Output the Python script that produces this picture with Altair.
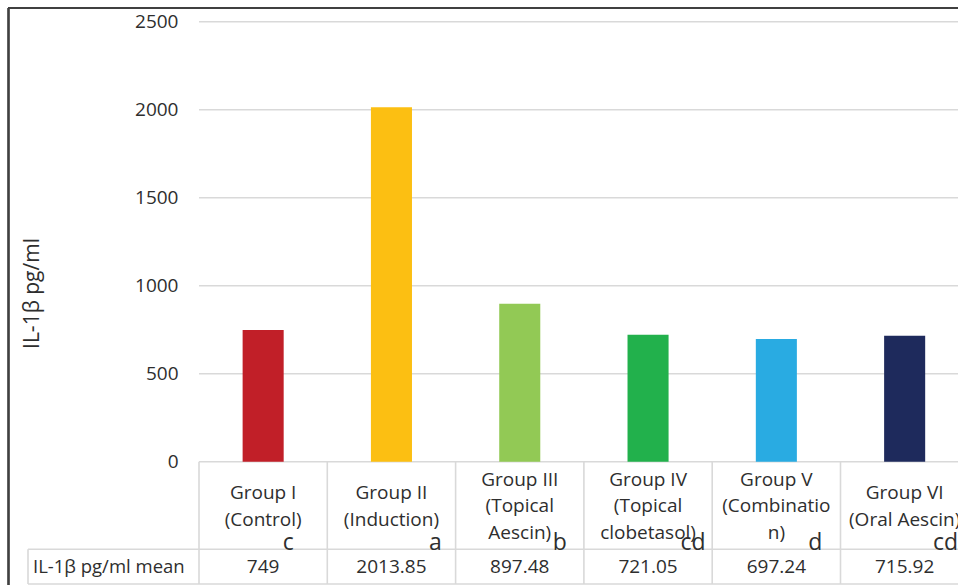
import altair as alt
import pandas as pd

# ---------------- data ----------------
groups = ["Group I", "Group II", "Group III", "Group IV", "Group V", "Group VI"]
label_lines = [
    ["Group I", "(Control)"],
    ["Group II", "(Induction)"],
    ["Group III", "(Topical", "Aescin)"],
    ["Group IV", "(Topical", "clobetasol)"],
    ["Group V", "(Combinatio", "n)"],
    ["Group VI", "(Oral Aescin)"],
]
letters = ["c", "a", "b", "cd", "d", "cd"]
means = [749, 2013.85, 897.48, 721.05, 697.24, 715.92]
means_text = ["749", "2013.85", "897.48", "721.05", "697.24", "715.92"]
colors = ["#C11F28", "#FCBF12", "#92C955", "#22B14C", "#29ABE2", "#1E2A5C"]
y_ticks = [0, 500, 1000, 1500, 2000, 2500]
row_label = "IL-1β pg/ml mean"
y_title = "IL-1β pg/ml"

# ---------------- layout (pixels) ----------------
W, H = 950, 577          # view size; page offset 8,8
PAD = 8
X0 = 199.0               # page x of the first category boundary
COL = 128.3              # column width in px
Y0 = 461.7               # page y of value 0
PPU = 0.176              # px per value unit
LABEL_LEFT = 28.0        # page x of table label column
ROW_TOP = 549.3          # page y of data row top
ROW_BOT = 584.0          # page y of data row bottom
LINE_H = 26.7
LETTER_DX = [25, 44, 40, 45, 39, 41]   # px shift of the letters from the cell centre
FONT = "Open Sans"
TXT = "#2e2e2e"
GRID = "#d9d9d9"

def ux(px):
    return (px - X0) / COL

def vy(py):
    return (Y0 - py) / PPU

n = len(groups)
XS = alt.Scale(domain=[ux(PAD), ux(PAD + W)], nice=False, zero=False)
YS = alt.Scale(domain=[vy(PAD + H), vy(PAD)], nice=False, zero=False)
YAX = alt.Axis(
    values=y_ticks, format="d", grid=False, domain=False, ticks=False,
    offset=-(X0 - PAD), labelPadding=21,
    labelFont=FONT, labelFontSize=19, labelColor=TXT,
    title=y_title, titleFont=FONT, titleFontSize=21, titleFontWeight="normal",
    titleColor=TXT, titleAngle=-90, titleAlign="center", titleBaseline="middle",
    titleX=32 - X0, titleY=293 - PAD,
)

def X(f):
    return alt.X(f, scale=XS, axis=None)

def Y(f):
    return alt.Y(f, scale=YS, axis=YAX)

# ---------------- tables ----------------
cat_df = pd.DataFrame({
    "group": groups,
    "idx": list(range(n)),
    "lines": ["\n".join(l) for l in label_lines],
    "nlines": [len(l) for l in label_lines],
    "letter": letters,
    "mean": means,
    "mean_txt": means_text,
})
cat_df["xc"] = cat_df["idx"] + 0.5
cat_df["xl"] = cat_df["xc"] - 0.16
cat_df["xr"] = cat_df["xc"] + 0.16
cat_df["xlet"] = cat_df["xc"] + [d / COL for d in LETTER_DX]
cat_df["ylab"] = [vy(506.5 - (k - 1) / 2 * LINE_H) for k in cat_df["nlines"]]
cat_df["ylet"] = vy(ROW_TOP)
cat_df["yval"] = vy((ROW_TOP + ROW_BOT) / 2)

segs = []
for t in y_ticks:
    segs.append({"x": 0, "x2": n, "y": t, "y2": t})
for py in (ROW_TOP, ROW_BOT):
    segs.append({"x": ux(LABEL_LEFT), "x2": n, "y": vy(py), "y2": vy(py)})
for i in range(n + 1):
    segs.append({"x": i, "x2": i, "y": 0, "y2": vy(ROW_BOT)})
segs.append({"x": ux(LABEL_LEFT), "x2": ux(LABEL_LEFT), "y": vy(ROW_TOP), "y2": vy(ROW_BOT)})
seg_df = pd.DataFrame(segs)

tick_df = pd.DataFrame({"v": y_ticks, "x": [0] * len(y_ticks)})

# ---------------- layers ----------------
lines = alt.Chart(seg_df).mark_rule(color=GRID, strokeWidth=1.6, clip=True).encode(
    x=X("x:Q"), x2="x2:Q", y=Y("y:Q"), y2="y2:Q",
)

bars = alt.Chart(cat_df).mark_bar().encode(
    x=X("xl:Q"), x2="xr:Q",
    y=Y("mean:Q"), y2=alt.datum(0),
    color=alt.Color("group:N", scale=alt.Scale(domain=groups, range=colors), legend=None),
)

cat_text = alt.Chart(cat_df).mark_text(
    font=FONT, fontSize=19, color=TXT, align="center", baseline="middle",
    lineBreak="\n", lineHeight=LINE_H,
).encode(x=X("xc:Q"), y=Y("ylab:Q"), text="lines:N")

letter_text = alt.Chart(cat_df).mark_text(
    font=FONT, fontSize=23, color=TXT, align="center", baseline="alphabetic", dy=1,
).encode(x=X("xlet:Q"), y=Y("ylet:Q"), text="letter:N")

val_text = alt.Chart(cat_df).mark_text(
    font=FONT, fontSize=19, color=TXT, align="center", baseline="middle",
).encode(x=X("xc:Q"), y=Y("yval:Q"), text="mean_txt:N")

row_df = pd.DataFrame({"t": [row_label], "x": [ux(LABEL_LEFT)], "y": [vy((ROW_TOP + ROW_BOT) / 2)]})
row_text = alt.Chart(row_df).mark_text(
    font=FONT, fontSize=18.5, color=TXT, align="left", baseline="middle", dx=5,
).encode(x=X("x:Q"), y=Y("y:Q"), text="t:N")

frame_left = alt.Chart(tick_df).mark_rule(color="#404040", strokeWidth=1.5).encode(
    x=alt.value(0.5), y=alt.value(0), y2=alt.value(H)
)
frame_top = alt.Chart(tick_df).mark_rule(color="#404040", strokeWidth=1.5).encode(
    x=alt.value(0), x2=alt.value(W), y=alt.value(0)
)

chart = alt.layer(
    lines, bars, cat_text, letter_text, val_text, row_text, frame_left, frame_top
).properties(
    width=W, height=H,
    autosize=alt.AutoSizeParams(type="none"),
    padding={"left": PAD, "top": PAD, "right": 0, "bottom": 0},
).configure_view(stroke=None).configure(background="white")

chart.save("out.html", embed_options={"renderer": "svg", "actions": False})
